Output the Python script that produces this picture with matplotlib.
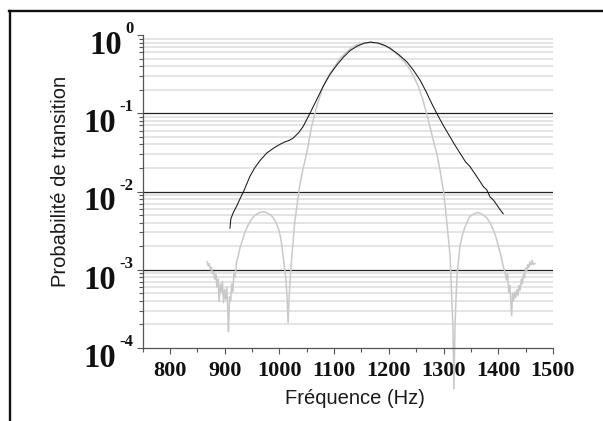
#import necessary libraries
import numpy as np
import matplotlib.pyplot as plt
from matplotlib.ticker import LogLocator, NullFormatter, MultipleLocator
from matplotlib.lines import Line2D

# data
# black curve: frequency (Hz) and transition probability
black_freq = [909.7, 911.5, 916, 922, 929, 936, 946, 955, 965, 977, 990, 1001, 1010, 1018,
              1025, 1035, 1043.6, 1050, 1056, 1068, 1080, 1092, 1104.7, 1117, 1129, 1142,
              1155, 1166, 1180, 1192, 1202, 1217, 1232.6, 1245, 1257, 1268, 1278, 1287.5,
              1299, 1311.8, 1320, 1330, 1340, 1348, 1360, 1373, 1379, 1385, 1391, 1397,
              1403, 1409]
black_prob = [3.4e-3, 4.5e-3, 5.4e-3, 6.5e-3, 8.3e-3, 1.05e-2, 1.55e-2, 2.0e-2, 2.5e-2, 3.1e-2,
              3.6e-2, 4.0e-2, 4.3e-2, 4.5e-2, 4.8e-2, 5.6e-2, 6.8e-2, 8.3e-2, 0.10, 0.148,
              0.22, 0.31, 0.41, 0.52, 0.63, 0.72, 0.785, 0.81, 0.79, 0.74, 0.68, 0.57,
              0.457, 0.355, 0.266, 0.19, 0.135, 0.10, 0.071, 0.050, 0.040, 0.031, 0.024,
              0.021, 0.0158, 0.0115, 0.0105, 8.5e-3, 7.8e-3, 6.8e-3, 5.9e-3, 5.2e-3]

# gray curve
gray_freq = [868, 870, 872, 874, 876, 878, 880, 882, 884, 886, 888, 890, 892, 894, 896, 898,
             900, 902, 904, 906, 907, 909, 911, 913, 915, 917, 919, 922, 925, 928, 932, 937,
             942, 947, 952, 958, 964, 970, 976, 982, 988, 994, 1000, 1004, 1007, 1010, 1012,
             1014, 1016, 1018, 1020, 1022, 1025, 1028, 1030, 1036, 1043, 1050, 1059, 1068,
             1080, 1090, 1099, 1110, 1120, 1130, 1141, 1155, 1168, 1182, 1196, 1208, 1220,
             1230, 1239, 1247, 1254, 1262, 1269, 1275, 1281, 1288, 1294, 1300, 1303, 1306,
             1309, 1312, 1315, 1317, 1319, 1321, 1323, 1325, 1330, 1334, 1339, 1348, 1356,
             1363, 1371, 1379, 1385, 1391, 1396, 1400, 1405, 1409, 1412, 1415, 1417, 1419,
             1421, 1423, 1424.5, 1426, 1428, 1430, 1432, 1434, 1436, 1438, 1440, 1442, 1444,
             1446, 1448, 1450, 1452, 1454, 1456, 1458, 1460, 1462, 1464, 1467]
gray_prob = [1.26e-3, 1.12e-3, 1.20e-3, 1.00e-3, 1.07e-3, 8.9e-4, 9.5e-4, 7.6e-4, 8.7e-4,
             6.0e-4, 7.6e-4, 3.9e-4, 6.6e-4, 5.2e-4, 7.1e-4, 3.8e-4, 5.6e-4, 4.2e-4, 6.0e-4,
             2.8e-4, 1.62e-4, 4.5e-4, 4.0e-4, 6.6e-4, 5.2e-4, 8.9e-4, 8.1e-4, 1.26e-3,
             1.5e-3, 1.9e-3, 2.3e-3, 3.0e-3, 3.6e-3, 4.2e-3, 4.7e-3, 5.1e-3, 5.4e-3, 5.5e-3,
             5.4e-3, 5.1e-3, 4.7e-3, 4.0e-3, 3.1e-3, 2.2e-3, 1.5e-3, 1.0e-3, 7.6e-4, 4.5e-4,
             2.1e-4, 4.5e-4, 7.9e-4, 1.26e-3, 2.2e-3, 4.0e-3, 5.0e-3, 1.05e-2, 1.9e-2,
             3.1e-2, 6.8e-2, 0.12, 0.22, 0.30, 0.376, 0.49, 0.58, 0.67, 0.745, 0.79, 0.81,
             0.78, 0.71, 0.62, 0.53, 0.44, 0.36, 0.28, 0.22, 0.15, 0.10, 0.068, 0.046,
             0.030, 0.018, 0.010, 6.6e-3, 4.0e-3, 2.4e-3, 1.5e-3, 4.6e-4, 2.0e-4, 3.0e-5,
             2.0e-4, 4.6e-4, 9.1e-4, 2.0e-3, 2.7e-3, 3.5e-3, 4.8e-3, 5.2e-3, 5.4e-3,
             5.1e-3, 4.6e-3, 4.0e-3, 3.2e-3, 2.6e-3, 2.0e-3, 1.5e-3, 1.1e-3, 9.5e-4,
             7.4e-4, 8.9e-4, 5.2e-4, 6.3e-4, 3.8e-4, 2.6e-4, 5.0e-4, 4.0e-4, 5.2e-4,
             4.4e-4, 5.6e-4, 4.7e-4, 6.3e-4, 5.5e-4, 7.6e-4, 6.6e-4, 8.7e-4, 7.9e-4,
             1.05e-3, 9.5e-4, 1.17e-3, 1.07e-3, 1.26e-3, 1.15e-3, 1.32e-3, 1.17e-3, 1.2e-3]

x_ticks = [800, 900, 1000, 1100, 1200, 1300, 1400, 1500]
decades = [0, -1, -2, -3, -4]
major_lines = [1e-1, 1e-2, 1e-3]

W, H = 603, 421
fig = plt.figure(figsize=(W / 100, H / 100), dpi=100)
left, right, top, bottom = 142.5, 553, 35, 348
ax = fig.add_axes([left / W, 1 - bottom / H, (right - left) / W, (bottom - top) / H])

ax.set_xlim(750, 1500)
ax.set_yscale('log')
ax.set_ylim(1e-4, 1)

# grid
ax.yaxis.set_minor_locator(LogLocator(base=10, subs=np.arange(2, 10)))
ax.yaxis.grid(True, which='minor', color='#dcdcdc', lw=1.1, zorder=0)
for v in major_lines:
    ax.axhline(v, color='#222222', lw=0.9, zorder=1)

# curves
ax.plot(gray_freq, gray_prob, color='#c9c9c9', lw=1.1, zorder=2, clip_on=False)
ax.plot(black_freq, black_prob, color='#1a1a1a', lw=0.75, zorder=3)

# spines and ticks
for s in ['top', 'right']:
    ax.spines[s].set_visible(False)
for s in ['left', 'bottom']:
    ax.spines[s].set_color('#555555')
    ax.spines[s].set_linewidth(0.9)
ax.set_xticks(x_ticks)
ax.xaxis.set_minor_locator(MultipleLocator(50))
ax.tick_params(which='major', direction='out', length=4.3, width=0.8, color='#555555')
ax.tick_params(which='minor', direction='out', length=2.6, width=0.8, color='#555555')
ax.tick_params(axis='x', which='major', pad=5, labelsize=16, labelcolor='#111111')
for lab in ax.get_xticklabels():
    lab.set_family('Liberation Serif')
    lab.set_fontweight('bold')
ax.yaxis.set_major_formatter(NullFormatter())
ax.yaxis.set_minor_formatter(NullFormatter())

# y tick labels like 10^-1, drawn by hand so the exponent can be small
renderer = fig.canvas.get_renderer()
for e in decades:
    sup = ax.annotate(str(e), xy=(0, 10.0 ** e), xycoords=('axes fraction', 'data'),
                      xytext=(-9, 2), textcoords='offset pixels', ha='right', va='baseline',
                      fontsize=12, fontweight='bold', family='Liberation Serif',
                      color='#111111')
    w = sup.get_window_extent(renderer).width
    ax.annotate('10', xy=(0, 10.0 ** e), xycoords=('axes fraction', 'data'),
                xytext=(-9 - w - 3.5, -19), textcoords='offset pixels', ha='right',
                va='baseline', fontsize=23.5, fontweight='bold', family='Liberation Serif',
                color='#111111')

# axis titles
fig.text(60 / W, 1 - 181 / H, 'Probabilité de transition', rotation=90, ha='center',
         va='center', fontsize=14.5, family='Liberation Sans', color='#1a1a1a')
fig.text(355 / W, 1 - 398 / H, 'Fréquence (Hz)', ha='center', va='center',
         fontsize=14.5, family='Liberation Sans', color='#1a1a1a')

# outer frame (left and top edges)
fig.add_artist(Line2D([10 / W, 10 / W], [0, 1 - 10.5 / H], color='#111111', lw=1.7))
fig.add_artist(Line2D([9 / W, 1], [1 - 11 / H, 1 - 11 / H], color='#111111', lw=1.7))

plt.savefig('out.png', dpi=100)
